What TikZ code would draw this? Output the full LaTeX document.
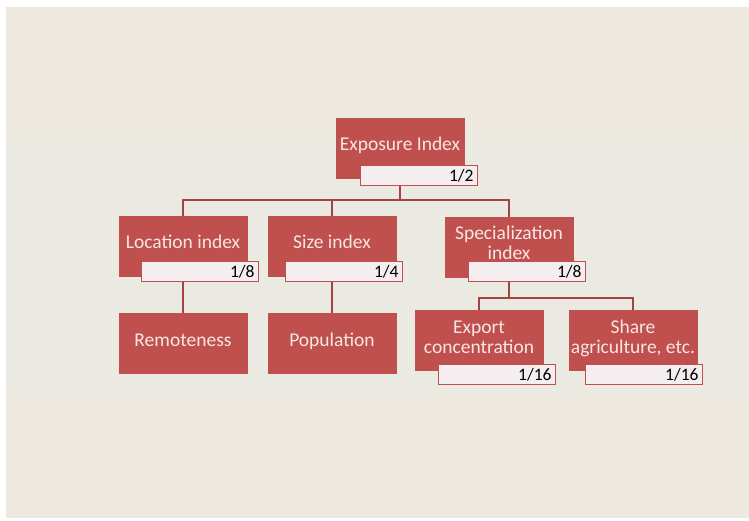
\documentclass[tikz,border=0pt]{standalone}
\usepackage{fontspec}
\setmainfont{Carlito}
\usepackage{xcolor}
\usetikzlibrary{positioning}

\definecolor{boxred}{HTML}{C0504D}
\definecolor{boxtext}{HTML}{F6E6E4}
\definecolor{wfill}{HTML}{F4EEF0}
\definecolor{paper}{HTML}{EDE9DE}
\definecolor{band}{HTML}{EAEAE3}

\begin{document}
\begin{tikzpicture}[x=1pt, y=1pt,
                    box/.style={rectangle, fill=boxred, draw=boxred,
                                minimum width=128pt, minimum height=60pt, inner xsep=1pt,
                                align=center, text=boxtext, font=\fontsize{19.5}{20}\selectfont},
                    wbox/.style={rectangle, fill=wfill, draw=boxred, line width=1.3pt,
                                 minimum height=20pt, text width=109pt, inner xsep=4pt,
                                 inner ysep=0pt, align=right, text=black,
                                 font=\fontsize{17.5}{18}\selectfont},
                    tree/.style={draw=boxred!85!black, line width=1.6pt}]
    %\draw[help lines] (0,0) grid (749,-521);
   \useasboundingbox (0,0) rectangle (749,-521);
   \fill[paper] (6,-7) rectangle (749,-518);
   \fill[band] (6,-138) rectangle (749,-396);

   % boxes
   \node[box] (expo) at (400,-148) {Exposure Index\\[-12pt]};
   \node[wbox, anchor=south east] (expo_w) at ([xshift=14pt, yshift=-8pt]expo.south east) {1/2};

   \node[box] (loc) at (183,-246) {Location index\\[-12pt]};
   \node[wbox, anchor=south east] (loc_w) at ([xshift=12pt, yshift=-6pt]loc.south east) {1/8};

   \node[box] (size) at (332,-246) {Size index\\[-12pt]};
   \node[wbox, anchor=south east] (size_w) at ([xshift=7pt, yshift=-6pt]size.south east) {1/4};

   \node[box] (spec) at (509,-247) {Specialization\\index\\[-12pt]};
   \node[wbox, anchor=south east] (spec_w) at ([xshift=13pt, yshift=-5pt]spec.south east) {1/8};

   \node[box] (remote) at (183,-343) {Remoteness\\[-14pt]};
   \node[box] (pop) at (332,-343) {Population\\[-14pt]};

   \node[box] (export) at (479,-340) {Export\\concentration\\[-14pt]};
   \node[wbox, anchor=south east] (export_w) at ([xshift=13pt, yshift=-15pt]export.south east) {1/16};

   \node[box] (share) at (633,-340) {Share\\agriculture, etc.\\[-14pt]};
   \node[wbox, anchor=south east] (share_w) at ([xshift=6pt, yshift=-15pt]share.south east) {1/16};

   % tree lines
   \path[tree]
    (expo_w.south -| expo) -- ++(0,-14) -| (loc.north)
    (expo_w.south -| expo) -- ++(0,-14) -| (size.north)
    (expo_w.south -| expo) -- ++(0,-14) -| (spec.north)
    (loc_w.south -| loc) -- (remote.north)
    (size_w.south -| size) -- (pop.north)
    (spec_w.south -| spec) -- ++(0,-16) -| (export.north)
    (spec_w.south -| spec) -- ++(0,-16) -| (share.north);

\end{tikzpicture}
\end{document}
